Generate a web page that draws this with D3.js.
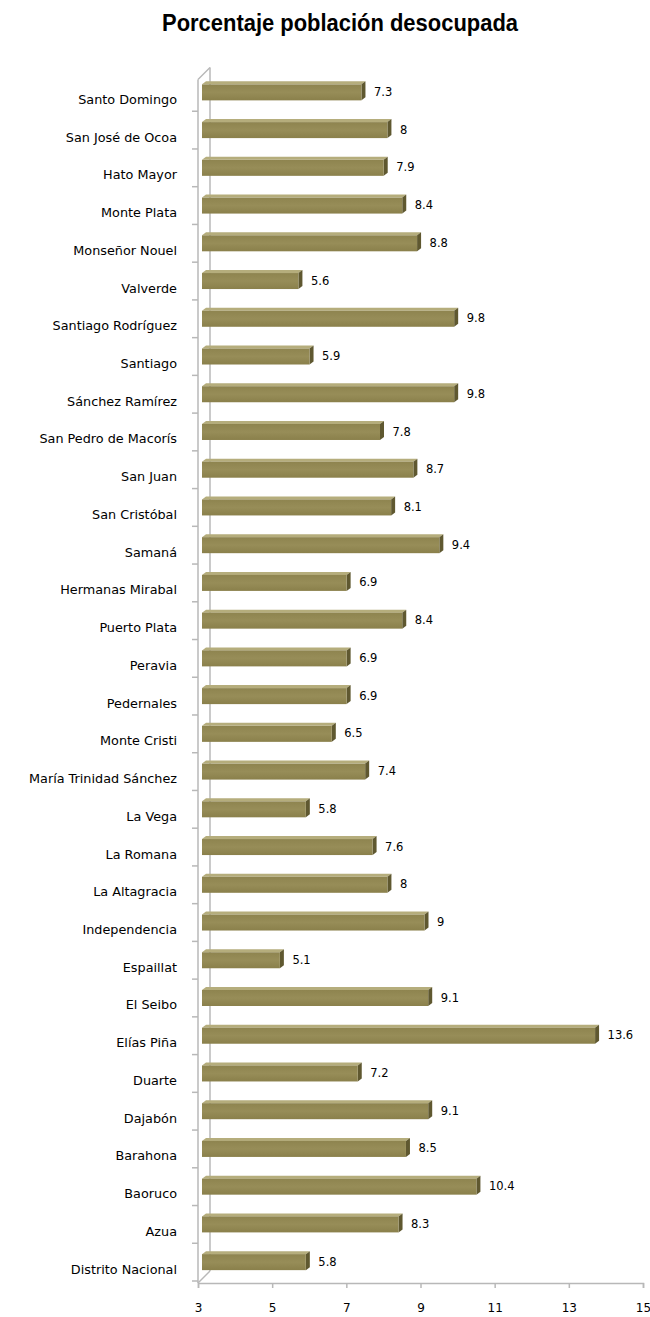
<!DOCTYPE html>
<html><head><meta charset="utf-8">
<script src="https://cdn.jsdelivr.net/npm/d3@7"></script>
<style>body{margin:0;background:#fff}svg{display:block}</style>
</head><body>
<script>
const categories = ["Santo Domingo","San José de Ocoa","Hato Mayor","Monte Plata","Monseñor Nouel","Valverde","Santiago Rodríguez","Santiago","Sánchez Ramírez","San Pedro de Macorís","San Juan","San Cristóbal","Samaná","Hermanas Mirabal","Puerto Plata","Peravia","Pedernales","Monte Cristi","María Trinidad Sánchez","La Vega","La Romana","La Altagracia","Independencia","Espaillat","El Seibo","Elías Piña","Duarte","Dajabón","Barahona","Baoruco","Azua","Distrito Nacional"];
const values = [7.3,8,7.9,8.4,8.8,5.6,9.8,5.9,9.8,7.8,8.7,8.1,9.4,6.9,8.4,6.9,6.9,6.5,7.4,5.8,7.6,8,9,5.1,9.1,13.6,7.2,9.1,8.5,10.4,8.3,5.8];
const valueLabels = ["7.3","8","7.9","8.4","8.8","5.6","9.8","5.9","9.8","7.8","8.7","8.1","9.4","6.9","8.4","6.9","6.9","6.5","7.4","5.8","7.6","8","9","5.1","9.1","13.6","7.2","9.1","8.5","10.4","8.3","5.8"];
const tickValues = [3,5,7,9,11,13,15];
const title = "Porcentaje población desocupada";

const W = 650, H = 1317;
const svg = d3.select("body").append("svg").attr("width", W).attr("height", H);
const defs = svg.append("defs");
const g1 = defs.append("linearGradient").attr("id","front").attr("x1",0).attr("y1",0).attr("x2",0).attr("y2",1);
g1.append("stop").attr("offset","0%").attr("stop-color","#8e844f");
g1.append("stop").attr("offset","50%").attr("stop-color","#978d58");
g1.append("stop").attr("offset","100%").attr("stop-color","#8a804b");

const x = d3.scaleLinear().domain([3,15]).range([198,643]);
const y = d3.scaleBand().domain(categories).range([73.5,1281]);
const axisY = 1283, depth = 12;

svg.append("text").attr("x",340).attr("y",30.5).attr("text-anchor","middle")
  .attr("textLength",356).attr("lengthAdjust","spacingAndGlyphs")
  .style("font-family","'Liberation Sans',Arial,sans-serif").style("font-weight","bold")
  .style("font-size","23.5px").attr("fill","#000").text(title);

// wall
const wall = svg.append("g").attr("stroke","#b8b8b8").attr("fill","none").attr("stroke-width",1.5);
const topY = y.range()[0] + 6;
wall.append("line").attr("x1",x(3)).attr("y1",topY).attr("x2",x(3)).attr("y2",axisY);
wall.append("line").attr("x1",x(3)+depth).attr("y1",topY-depth).attr("x2",x(3)+depth).attr("y2",axisY-depth);
wall.append("line").attr("x1",x(3)).attr("y1",topY).attr("x2",x(3)+depth).attr("y2",topY-depth);
wall.append("line").attr("x1",x(3)).attr("y1",axisY).attr("x2",x(3)+depth).attr("y2",axisY-depth);
// category ticks
const bounds = categories.map(c => y(c)).concat([y.range()[1]]);
wall.selectAll("line.ct").data(bounds.slice(1)).join("line").attr("class","ct")
  .attr("x1",x(3)-6).attr("x2",x(3)).attr("y1",d=>d).attr("y2",d=>d);

// floor axis
const ax = svg.append("g").attr("transform",`translate(0,${axisY})`)
  .call(d3.axisBottom(x).tickValues(tickValues).tickSize(5).tickPadding(15).tickFormat(d3.format("d")));
ax.select(".domain").attr("stroke","#b8b8b8").attr("stroke-width",1.5);
ax.selectAll(".tick line").attr("stroke","#b8b8b8").attr("stroke-width",1.5);
ax.selectAll(".tick text").style("font-family","'DejaVu Sans',Verdana,sans-serif").style("font-size","12px").attr("fill","#000");

// bars
const bh = 16, dx = 4, dy = 3, off = 4;
const bars = svg.append("g").selectAll("g").data(categories).join("g");
bars.each(function(c,i){
  const g = d3.select(this);
  const cy = y(c) + y.bandwidth()/2;
  const x0 = x(3) + off, x1 = x(values[i]) + off;
  const t = cy - bh/2, b = cy + bh/2;
  g.append("path").attr("d",`M${x0},${t}L${x0+dx},${t-dy}L${x1+dx},${t-dy}L${x1},${t}Z`).attr("fill","#b5ad7c");
  g.append("path").attr("d",`M${x1},${t}L${x1+dx},${t-dy}L${x1+dx},${b-dy}L${x1},${b}Z`).attr("fill","#5f5830");
  g.append("rect").attr("x",x0).attr("y",t).attr("width",x1-x0).attr("height",bh).attr("fill","url(#front)");
  g.append("text").attr("x",x1+dx+8.5).attr("y",cy-0.5).attr("dy","0.35em")
    .style("font-family","'DejaVu Sans',Verdana,sans-serif").style("font-size","11.5px").attr("fill","#000").text(valueLabels[i]);
  g.append("text").attr("x",177).attr("y",cy+7).attr("dy","0.35em").attr("text-anchor","end")
    .style("font-family","'DejaVu Sans',Verdana,sans-serif").style("font-size","12.8px").attr("fill","#000").text(c);
});
</script>
</body></html>
